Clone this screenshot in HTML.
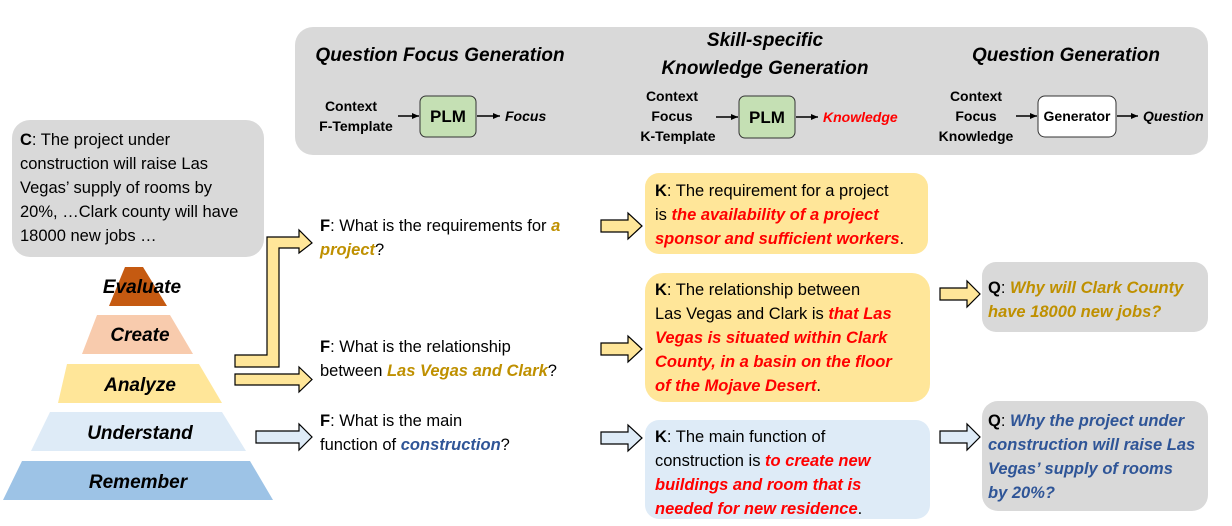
<!DOCTYPE html>
<html><head><meta charset="utf-8"><style>
html,body{margin:0;padding:0;background:#fff;}
svg{display:block;font-family:"Liberation Sans",sans-serif;}
.t{font-size:16.5px;fill:#000;}
.b{font-weight:bold;}
.i{font-style:italic;font-weight:bold;}
.red{fill:#ff0000;}
.gold{fill:#bf9000;}
.blue{fill:#2f5597;}
.h{font-size:19px;font-weight:bold;font-style:italic;}
.s{font-size:14px;font-weight:bold;}
</style></head><body>
<svg width="1232" height="526" viewBox="0 0 1232 526" xmlns="http://www.w3.org/2000/svg">
<defs>
<marker id="ah" markerWidth="8" markerHeight="8" refX="7" refY="4" orient="auto" markerUnits="userSpaceOnUse"><path d="M0,1 L7,4 L0,7 Z" fill="#000"/></marker>
</defs>
<!-- top panel -->
<rect x="295" y="27" width="913" height="128" rx="18" fill="#d9d9d9"/>
<text x="440" y="61" text-anchor="middle" class="h">Question Focus Generation</text>
<text x="765" y="46" text-anchor="middle" class="h">Skill-specific</text>
<text x="765" y="74" text-anchor="middle" class="h">Knowledge Generation</text>
<text x="1066" y="61" text-anchor="middle" class="h">Question Generation</text>

<text x="351" y="111" text-anchor="middle" class="s">Context</text>
<text x="356" y="131" text-anchor="middle" class="s">F-Template</text>
<line x1="398" y1="116" x2="419" y2="116" stroke="#000" stroke-width="1.5" marker-end="url(#ah)"/>
<rect x="420" y="96" width="56" height="41" rx="6" fill="#c5e0b4" stroke="#333" stroke-width="1"/>
<text x="448" y="122" text-anchor="middle" style="font-size:17px;font-weight:bold">PLM</text>
<line x1="477" y1="116" x2="500" y2="116" stroke="#000" stroke-width="1.5" marker-end="url(#ah)"/>
<text x="505" y="121" style="font-size:14px;font-weight:bold;font-style:italic">Focus</text>

<text x="672" y="101" text-anchor="middle" class="s">Context</text>
<text x="672" y="121" text-anchor="middle" class="s">Focus</text>
<text x="678" y="141" text-anchor="middle" class="s">K-Template</text>
<line x1="716" y1="117" x2="738" y2="117" stroke="#000" stroke-width="1.5" marker-end="url(#ah)"/>
<rect x="739" y="96" width="56" height="42" rx="6" fill="#c5e0b4" stroke="#333" stroke-width="1"/>
<text x="767" y="123" text-anchor="middle" style="font-size:17px;font-weight:bold">PLM</text>
<line x1="796" y1="117" x2="818" y2="117" stroke="#000" stroke-width="1.5" marker-end="url(#ah)"/>
<text x="823" y="122" class="red" style="font-size:14px;font-weight:bold;font-style:italic">Knowledge</text>

<text x="976" y="101" text-anchor="middle" class="s">Context</text>
<text x="976" y="121" text-anchor="middle" class="s">Focus</text>
<text x="976" y="141" text-anchor="middle" class="s">Knowledge</text>
<line x1="1016" y1="116" x2="1037" y2="116" stroke="#000" stroke-width="1.5" marker-end="url(#ah)"/>
<rect x="1038" y="96" width="78" height="41" rx="7" fill="#fff" stroke="#333" stroke-width="1"/>
<text x="1077" y="121" text-anchor="middle" style="font-size:14px;font-weight:bold">Generator</text>
<line x1="1117" y1="116" x2="1138" y2="116" stroke="#000" stroke-width="1.5" marker-end="url(#ah)"/>
<text x="1143" y="121" style="font-size:14px;font-weight:bold;font-style:italic">Question</text>

<!-- context box -->
<rect x="12" y="120" width="252" height="137" rx="18" fill="#d9d9d9"/>
<g class="t">
<text x="20" y="145"><tspan class="b">C</tspan>: The project under</text>
<text x="20" y="169">construction will raise Las</text>
<text x="20" y="193">Vegas’ supply of rooms by</text>
<text x="20" y="217">20%, …Clark county will have</text>
<text x="20" y="241">18000 new jobs …</text>
</g>

<!-- pyramid -->
<polygon points="125,267 143,267 167,306 109,306" fill="#c55a11"/>
<polygon points="97,315 170,315 193,354 82,354" fill="#f8cbad"/>
<polygon points="67,364 199,364 222,403 58,403" fill="#ffe699"/>
<polygon points="50,412 222,412 246,451 31,451" fill="#deebf7"/>
<polygon points="22,461 250,461 273,500 3,500" fill="#9dc3e6"/>
<g style="font-size:19px;font-weight:bold;font-style:italic" text-anchor="middle">
<text x="142" y="293">Evaluate</text>
<text x="140" y="341">Create</text>
<text x="140" y="391">Analyze</text>
<text x="140" y="439">Understand</text>
<text x="138" y="488">Remember</text>
</g>

<!-- arrows left -->
<polygon points="235,355 267,355 267,237 299,237 299,230 312,243 299,253 299,248 279,248 279,367 235,367" fill="#ffe699" stroke="#000" stroke-width="1.2"/>
<polygon points="235,374 299,374 299,367 312,379.5 299,392 299,385 235,385" fill="#ffe699" stroke="#000" stroke-width="1.2"/>
<polygon points="256,431 299,431 299,424 312,437 299,450 299,443 256,443" fill="#deebf7" stroke="#000" stroke-width="1.2"/>

<!-- F texts -->
<g class="t">
<text x="320" y="231"><tspan class="b">F</tspan>: What is the requirements for <tspan class="i gold">a</tspan></text>
<text x="320" y="255"><tspan class="i gold">project</tspan>?</text>
<text x="320" y="352"><tspan class="b">F</tspan>: What is the relationship</text>
<text x="320" y="376">between <tspan class="i gold">Las Vegas and Clark</tspan>?</text>
<text x="320" y="426"><tspan class="b">F</tspan>: What is the main</text>
<text x="320" y="450">function of <tspan class="i blue">construction</tspan>?</text>
</g>

<!-- K arrows -->
<polygon points="601,220 628,220 628,213 642,226 628,239 628,232 601,232" fill="#ffe699" stroke="#000" stroke-width="1.2"/>
<polygon points="601,343 628,343 628,336 642,349 628,362 628,355 601,355" fill="#ffe699" stroke="#000" stroke-width="1.2"/>
<polygon points="601,432 628,432 628,425 642,438 628,451 628,444 601,444" fill="#deebf7" stroke="#000" stroke-width="1.2"/>

<!-- K boxes -->
<rect x="645" y="173" width="283" height="81" rx="14" fill="#ffe699"/>
<rect x="645" y="273" width="285" height="129" rx="18" fill="#ffe699"/>
<rect x="645" y="420" width="285" height="99" rx="14" fill="#deebf7"/>
<g class="t">
<text x="655" y="196"><tspan class="b">K</tspan>: The requirement for a project</text>
<text x="655" y="220">is <tspan class="i red">the availability of a project</tspan></text>
<text x="655" y="244"><tspan class="i red">sponsor and sufficient workers</tspan>.</text>
<text x="655" y="295"><tspan class="b">K</tspan>: The relationship between</text>
<text x="655" y="319">Las Vegas and Clark is <tspan class="i red">that Las</tspan></text>
<text x="655" y="343"><tspan class="i red">Vegas is situated within Clark</tspan></text>
<text x="655" y="367"><tspan class="i red">County, in a basin on the floor</tspan></text>
<text x="655" y="391"><tspan class="i red">of the Mojave Desert</tspan>.</text>
<text x="655" y="442"><tspan class="b">K</tspan>: The main function of</text>
<text x="655" y="466">construction is <tspan class="i red">to create new</tspan></text>
<text x="655" y="490"><tspan class="i red">buildings and room that is</tspan></text>
<text x="655" y="514"><tspan class="i red">needed for new residence</tspan>.</text>
</g>

<!-- Q arrows -->
<polygon points="940,288 967,288 967,281 980,294 967,307 967,300 940,300" fill="#ffe699" stroke="#000" stroke-width="1.2"/>
<polygon points="940,431 967,431 967,424 980,437 967,450 967,443 940,443" fill="#deebf7" stroke="#000" stroke-width="1.2"/>

<!-- Q boxes -->
<rect x="982" y="262" width="226" height="70" rx="14" fill="#d9d9d9"/>
<rect x="982" y="401" width="226" height="110" rx="16" fill="#d9d9d9"/>
<g class="t">
<text x="988" y="293"><tspan class="b">Q</tspan>: <tspan class="i gold">Why will Clark County</tspan></text>
<text x="988" y="317"><tspan class="i gold">have 18000 new jobs?</tspan></text>
<text x="988" y="426"><tspan class="b">Q</tspan>: <tspan class="i blue">Why the project under</tspan></text>
<text x="988" y="450"><tspan class="i blue">construction will raise Las</tspan></text>
<text x="988" y="474"><tspan class="i blue">Vegas’ supply of rooms</tspan></text>
<text x="988" y="498"><tspan class="i blue">by 20%?</tspan></text>
</g>
</svg>
</body></html>
